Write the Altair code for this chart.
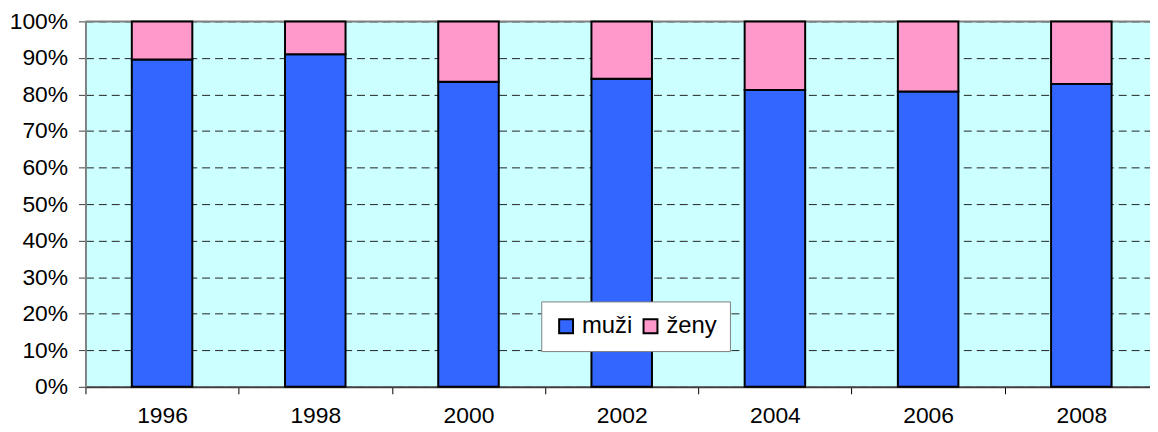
import altair as alt
import pandas as pd

years = ["1996", "1998", "2000", "2002", "2004", "2006", "2008"]
muzi = [89.6, 91.0, 83.5, 84.3, 81.2, 80.8, 82.9]
zeny = [10.4, 9.0, 16.5, 15.7, 18.8, 19.2, 17.1]
series = ["muži", "ženy"]
colors = ["#3366FF", "#FF99CC"]
y_ticks = [0, 10, 20, 30, 40, 50, 60, 70, 80, 90, 100]

rows = []
for i, yr in enumerate(years):
    rows.append({"rok": yr, "pohlavi": series[0], "podil": muzi[i], "poradi": 0})
    rows.append({"rok": yr, "pohlavi": series[1], "podil": zeny[i], "poradi": 1})
df = pd.DataFrame(rows)

FONT = "Liberation Sans"

x_enc = alt.X(
    "rok:N",
    sort=years,
    title=None,
    scale=alt.Scale(paddingInner=0, paddingOuter=0, range=[0, 1080]),
    axis=alt.Axis(
        labelAngle=0,
        tickBand="extent",
        grid=False,
        tickSize=7,
        tickColor="#000000",
        domainColor="#404040",
        domainWidth=2,
        labelFontSize=23,
        labelPadding=11,
        labelColor="#000000",
        labelFont=FONT,
        labelOverlap=False,
    ),
)

y_scale = alt.Scale(domain=[0, 100], nice=False, zero=True)
y_axis = alt.Axis(
    values=y_ticks,
    labelExpr="datum.value + '%'",
    labelOverlap=False,
    labelBound=False,
    grid=True,
    gridDash=[8, 5],
    gridColor="#222222",
    gridWidth=1,
    tickSize=7,
    tickColor="#404040",
    domainColor="#808080",
    domainWidth=2,
    labelFontSize=23,
    labelPadding=11,
    labelColor="#000000",
    labelFont=FONT,
)

bars = alt.Chart(df).mark_bar(
    width=alt.RelativeBandSize(0.395), stroke="#000000", strokeWidth=2
).encode(
    x=x_enc,
    y=alt.Y("podil:Q", stack="zero", scale=y_scale, title=None, axis=y_axis),
    color=alt.Color(
        "pohlavi:N",
        sort=series,
        scale=alt.Scale(domain=series, range=colors),
        legend=alt.Legend(
            title=None,
            orient="none",
            legendX=459,
            legendY=282,
            direction="horizontal",
            symbolType="square",
            symbolSize=196,
            symbolStrokeColor="#000000",
            symbolStrokeWidth=2,
            symbolOpacity=1,
            labelFontSize=24,
            labelFont=FONT,
            labelColor="#000000",
            columnPadding=6,
            labelOffset=4,
            padding=13,
            fillColor="#FFFFFF",
            strokeColor="#808080",
        ),
    ),
    order=alt.Order("poradi:Q"),
)

top_line = alt.Chart(pd.DataFrame({"v": [100]})).mark_rule(
    color="#808080", strokeWidth=2
).encode(y=alt.Y("v:Q", scale=y_scale, title=None, axis=y_axis))

chart = alt.layer(top_line, bars).properties(
    width=1072,
    height=368,
    autosize=alt.AutoSizeParams(type="none"),
    padding={"left": 78, "top": 12, "right": 0, "bottom": 44},
    background="#FFFFFF",
).configure_view(
    fill="#CCFFFF", stroke=None
)

chart.save("out.html", embed_options={"renderer": "svg", "actions": False})
